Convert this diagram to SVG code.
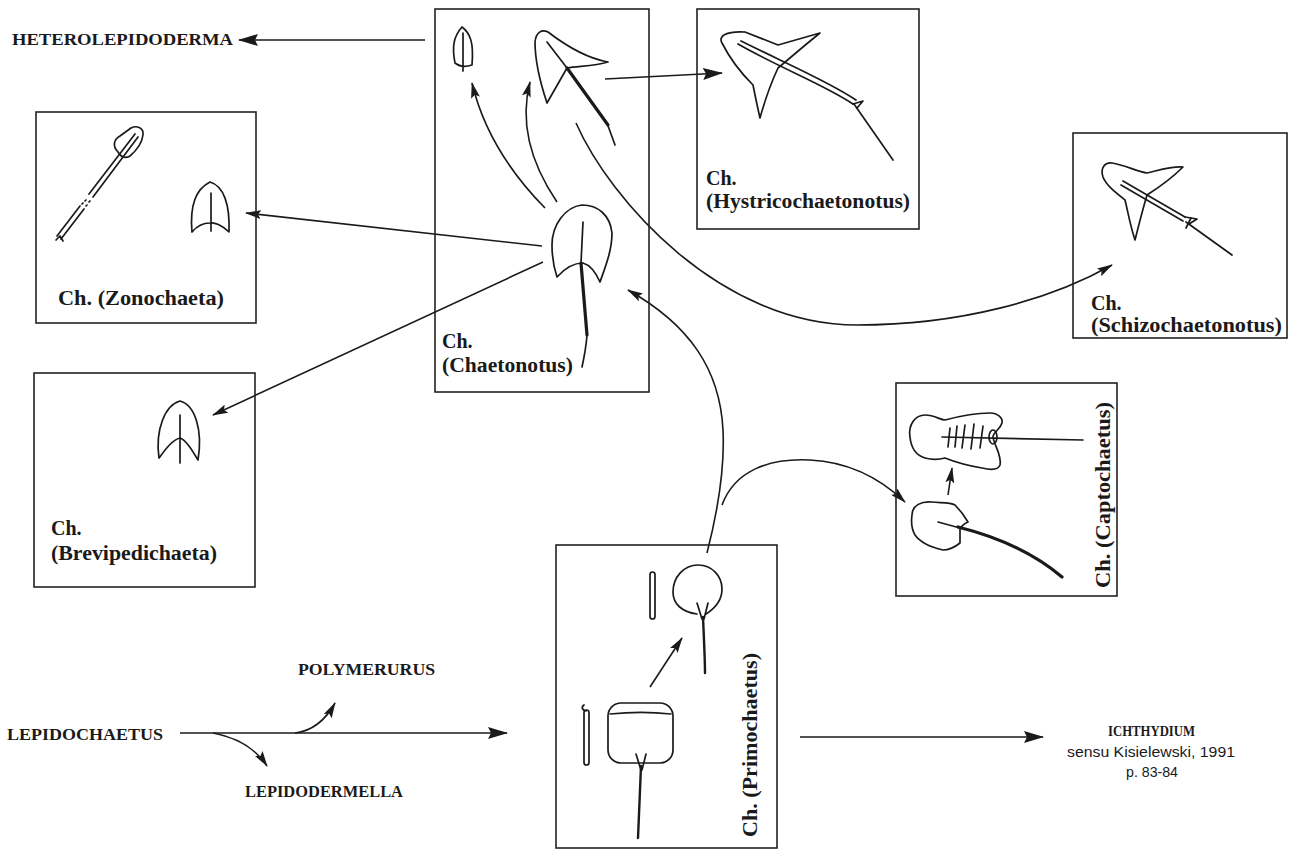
<svg xmlns="http://www.w3.org/2000/svg" width="1290" height="850" viewBox="0 0 1290 850">
<defs>
<style>
.box{fill:none;stroke:#222;stroke-width:1.6}
.sk{fill:none;stroke:#1a1a1a;stroke-width:1.7;stroke-linejoin:round;stroke-linecap:round}
.thick{fill:none;stroke:#1a1a1a;stroke-width:3.2;stroke-linecap:round}
.con{fill:none;stroke:#1a1a1a;stroke-width:1.6}
.lbl{font-family:"Liberation Serif",serif;font-weight:bold;font-size:20px;fill:#1a1a1a}
.cap{font-family:"Liberation Serif",serif;font-weight:bold;font-size:17px;fill:#1a1a1a}
.sans{font-family:"Liberation Sans",sans-serif;font-size:15px;fill:#1a1a1a}
</style>
<marker id="big" viewBox="0 0 20 12" refX="19" refY="6" markerWidth="20" markerHeight="12" markerUnits="userSpaceOnUse" orient="auto">
<path d="M0,0 L20,6 L0,12 L3,6 Z" fill="#1a1a1a"/>
</marker>
<marker id="sm" viewBox="0 0 16 9" refX="15" refY="4.5" markerWidth="16" markerHeight="9" markerUnits="userSpaceOnUse" orient="auto">
<path d="M0,0 L16,4.5 L0,9 L3,4.5 Z" fill="#1a1a1a"/>
</marker>
</defs>
<rect width="1290" height="850" fill="#ffffff"/>

<g id="connectors">
<path class="con" d="M425,40 L239,40" marker-end="url(#big)"/>
<path class="con" d="M605,79 L722,73" marker-end="url(#big)"/>
<path class="con" d="M545,208 Q488,150 472,83" marker-end="url(#sm)"/>
<path class="con" d="M557,202 Q515,140 530,82" marker-end="url(#sm)"/>
<path class="con" d="M576,123 C610,200 720,325 857,325 C960,325 1050,300 1112,265" marker-end="url(#sm)"/>
<path class="con" d="M542,246 L246,213" marker-end="url(#sm)"/>
<path class="con" d="M543,262 L213,415" marker-end="url(#sm)"/>
<path class="con" d="M707,553 C718,510 725,470 723,430 C720,370 690,325 628,290" marker-end="url(#sm)"/>
<path class="con" d="M722,505 C735,470 770,458 810,460 C850,462 882,480 905,502" marker-end="url(#sm)"/>
<path class="con" d="M180,733 L507,733" marker-end="url(#big)"/>
<path class="con" d="M295,733 Q320,730 335,703" marker-end="url(#sm)"/>
<path class="con" d="M213,733 Q250,740 267,766" marker-end="url(#sm)"/>
<path class="con" d="M800,737 L1043,737" marker-end="url(#big)"/>
<path class="con" d="M948,495 L952,468" marker-end="url(#sm)"/>
<path class="con" d="M650,687 L682,638" marker-end="url(#sm)"/>
</g>

<g id="heterolepidoderma">
<text class="cap" x="12" y="45" textLength="221" lengthAdjust="spacingAndGlyphs">HETEROLEPIDODERMA</text>
</g>

<g id="zonochaeta">
<rect class="box" x="36" y="112" width="220" height="211"/>
<path class="sk" d="M118,152 C112,146 114,139 120,136 L131,128 C137,125 144,128 143,135 C142,143 137,150 130,156 C125,159 121,157 118,152 Z"/>
<path class="sk" d="M57,236 L80,206 M89,194 L135,134 M61,239 L84,209 M93,197 L138,137"/>
<path class="sk" d="M82,204 L83,203 M85,201 L86,200 M86,206 L87,205 M89,202 L90,201"/>
<path class="sk" d="M56,240 L60,236 L63,241"/>
<path class="sk" d="M192,232 C190,210 194,190 210,182 C224,186 230,205 229,232 C222,225 214,222 210,223 C204,223 197,226 192,232 Z"/>
<path class="sk" d="M211,193 L211,231"/>
<text class="lbl" x="58" y="305" textLength="166" lengthAdjust="spacingAndGlyphs">Ch. (Zonochaeta)</text>
</g>

<g id="chaetonotus">
<rect class="box" x="435" y="9" width="214" height="383"/>
<path class="sk" d="M455,63 C452,48 453,37 462,27 C470,33 474,42 472,65 C466,67 460,67 455,63 Z"/>
<path class="sk" d="M463,33 L463,71"/>
<path class="sk" d="M547,103 C541,85 535,60 535,42 C536,32 542,29 548,32 C565,45 585,58 608,62 C595,66 580,66 567,68 Z"/>
<path class="sk" d="M547,42 L567,68"/>
<path class="thick" d="M567,68 L608,125"/>
<path class="sk" d="M607,123 L615,145"/>
<path class="sk" d="M582,205 C565,207 552,225 552,245 C552,258 554,268 557,277 C565,268 575,263 583,263 C590,265 596,273 600,282 C606,265 612,250 612,233 C610,215 598,205 582,205 Z"/>
<path class="sk" d="M583,222 L581,263"/>
<path class="thick" d="M581,263 L587,335"/>
<path class="sk" d="M587,335 C586,348 584,358 582,367"/>
<text class="lbl" x="442" y="348">Ch.</text>
<text class="lbl" x="442" y="372" textLength="131" lengthAdjust="spacingAndGlyphs">(Chaetonotus)</text>
</g>

<g id="hystricochaetonotus">
<rect class="box" x="697" y="9" width="222" height="220"/>
<path class="sk" d="M722,43 C718,36 726,31 745,32 L778,45 L820,33 C805,45 790,58 778,68 C770,85 765,100 760,118 C757,105 755,95 753,85 C740,72 728,55 722,43 Z"/>
<path class="sk" d="M738,44 C780,68 825,85 853,104 M741,41 C785,63 830,82 856,100"/>
<path class="sk" d="M853,104 L863,101 L857,108"/>
<path class="sk" d="M854,104 L893,160"/>
<text class="lbl" x="706" y="185">Ch.</text>
<text class="lbl" x="706" y="208" textLength="204" lengthAdjust="spacingAndGlyphs">(Hystricochaetonotus)</text>
</g>

<g id="schizochaetonotus">
<rect class="box" x="1073" y="133" width="214" height="205"/>
<path class="sk" d="M1103,177 C1100,168 1105,162 1112,163 C1125,165 1138,172 1147,173 C1160,170 1172,166 1183,167 C1172,178 1158,188 1147,195 C1142,212 1138,228 1135,240 C1130,225 1128,212 1125,200 C1115,192 1106,185 1103,177 Z"/>
<path class="sk" d="M1123,181 L1185,217 M1121,185 L1183,221"/>
<path class="sk" d="M1185,217 L1197,219 L1189,224"/>
<path class="sk" d="M1186,228 L1191,218"/>
<path class="sk" d="M1186,222 L1232,255"/>
<text class="lbl" x="1091" y="310">Ch.</text>
<text class="lbl" x="1091" y="332" textLength="191" lengthAdjust="spacingAndGlyphs">(Schizochaetonotus)</text>
</g>

<g id="brevipedichaeta">
<rect class="box" x="34" y="373" width="221" height="214"/>
<path class="sk" d="M159,458 C155,430 165,405 180,401 C195,405 203,430 198,460 C192,450 186,440 180,438 C172,440 165,450 159,458 Z"/>
<path class="sk" d="M180,415 L180,463"/>
<text class="lbl" x="51" y="535">Ch.</text>
<text class="lbl" x="51" y="560" textLength="166" lengthAdjust="spacingAndGlyphs">(Brevipedichaeta)</text>
</g>

<g id="captochaetus">
<rect class="box" x="896" y="383" width="221" height="213"/>
<path class="sk" d="M910,437 C908,425 915,415 925,415 C935,415 940,420 945,420 C960,416 978,413 990,413 C998,413 1003,418 1002,423 C1000,430 993,432 993,437 C994,445 1002,455 1000,465 C998,470 990,470 982,468 C970,466 955,462 945,458 C938,460 932,460 925,458 C915,455 911,447 910,437 Z"/>
<path class="sk" d="M942,437 L1083,440"/>
<path class="sk" d="M950,428 L948,447 M957,426 L955,447 M965,425 L962,448 M974,424 L971,449 M983,426 L980,448"/>
<ellipse class="sk" cx="993" cy="437" rx="4" ry="7"/>
<path class="sk" d="M912,515 C912,505 922,501 932,502 C940,503 950,502 955,505 L962,513 L968,522 C964,524 961,526 960,529 L960,543 C955,547 948,550 943,550 C930,547 920,542 915,535 C911,528 911,522 912,515 Z"/>
<path class="sk" d="M938,522 L960,528"/>
<path class="thick" d="M958,527 C990,535 1030,550 1062,577"/>
<text class="lbl" transform="translate(1110,588) rotate(-90)" x="0" y="0" textLength="186" lengthAdjust="spacingAndGlyphs">Ch. (Captochaetus)</text>
</g>

<g id="primochaetus">
<rect class="box" x="556" y="545" width="221" height="303"/>
<rect class="sk" x="650" y="572" width="5" height="47" rx="2.5"/>
<path class="sk" d="M697,614 C682,612 673,604 673,592 C673,577 684,565 698,565 C712,565 722,576 722,589 C722,601 714,609 706,614"/>
<path class="sk" d="M697,603 L702,619 M708,603 L704,619"/>
<path class="thick" d="M703,617 C704,640 705,660 705,673" style="stroke-width:2.4"/>
<path class="sk" d="M586,711 C582,710 581,707 584,705"/>
<rect class="sk" x="584" y="710" width="5" height="55" rx="2.5"/>
<rect class="sk" x="608" y="703" width="65" height="60" rx="13"/>
<path class="sk" d="M610,714 C630,712 652,712 671,714"/>
<path class="sk" d="M636,754 L641,770 M646,754 L642,770"/>
<path class="thick" d="M641,766 C640,790 639,815 638,838" style="stroke-width:2.4"/>
<text class="lbl" transform="translate(757,837) rotate(-90)" x="0" y="0" textLength="184" lengthAdjust="spacingAndGlyphs">Ch. (Primochaetus)</text>
</g>

<g id="lepidochaetus">
<text class="cap" x="7" y="740" textLength="156" lengthAdjust="spacingAndGlyphs">LEPIDOCHAETUS</text>
</g>
<g id="polymerurus">
<text class="cap" x="298" y="675" textLength="137" lengthAdjust="spacingAndGlyphs">POLYMERURUS</text>
</g>
<g id="lepidodermella">
<text class="cap" x="245" y="797" textLength="158" lengthAdjust="spacingAndGlyphs">LEPIDODERMELLA</text>
</g>
<g id="ichthydium">
<text class="cap" x="1108" y="736" textLength="87" lengthAdjust="spacingAndGlyphs" style="font-size:15px">ICHTHYDIUM</text>
<text class="sans" x="1067" y="757" textLength="168" lengthAdjust="spacingAndGlyphs">sensu Kisielewski, 1991</text>
<text class="sans" x="1126" y="777" textLength="52" lengthAdjust="spacingAndGlyphs">p. 83-84</text>
</g>
</svg>
